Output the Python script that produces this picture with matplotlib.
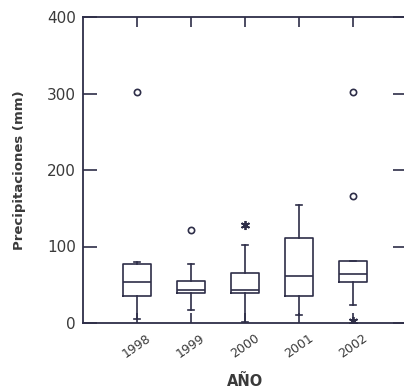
import matplotlib
matplotlib.use("Agg")
import matplotlib.pyplot as plt

# Precipitation by year
years = ["1998", "1999", "2000", "2001", "2002"]
q1 = [35, 39, 39, 35, 53]
med = [53, 43.5, 43, 62, 63.5]
q3 = [77, 55, 65, 111.5, 81.5]
whis_lo = [5, 17, 1, 10.5, 23.5]
whis_hi = [79.5, 77, 102, 154, 81.5]
outliers = [[302], [122], [], [], [166, 302]]
extremes = [[], [], [128], [], [2]]

line_c = "#2e2e48"
text_c = "#3a3a3a"

fig = plt.figure(figsize=(4.04, 3.88), dpi=100)
ax = fig.add_axes([83 / 404, 1 - 323 / 388, 324 / 404, 306 / 388])

pos = list(range(1, len(years) + 1))
stats = []
for i in range(len(years)):
    stats.append({"med": med[i], "q1": q1[i], "q3": q3[i],
                  "whislo": whis_lo[i], "whishi": whis_hi[i],
                  "fliers": outliers[i]})

lw = 1.2
ax.bxp(stats, positions=pos, widths=0.52, capwidths=0.12,
       boxprops=dict(color=line_c, linewidth=lw),
       medianprops=dict(color=line_c, linewidth=lw),
       whiskerprops=dict(color=line_c, linewidth=lw),
       capprops=dict(color=line_c, linewidth=lw),
       flierprops=dict(marker="o", markersize=4.5, markerfacecolor="none",
                       markeredgecolor=line_c, markeredgewidth=1.2))

# extreme values drawn as asterisks
for p, vals in zip(pos, extremes):
    for v in vals:
        ax.plot(p, v, marker=(6, 2, 0), markersize=6.5, color=line_c,
                markeredgewidth=1.3, linestyle="none")

ax.set_xlim(0, 6)
ax.set_ylim(0, 400)
ax.set_yticks([0, 100, 200, 300, 400])
ax.set_xticks(pos)
ax.set_xticklabels(years, rotation=35, ha="center", color=text_c, fontsize=9)
ax.tick_params(axis="y", direction="in", length=10, width=1.2, colors=line_c,
               labelcolor=text_c, labelsize=11, pad=5, right=True)
ax.tick_params(axis="x", direction="in", length=7, width=1.2, colors=line_c,
               labelcolor=text_c, pad=6, top=True)

for s in ax.spines.values():
    s.set_color(line_c)
    s.set_linewidth(1.3)

ax.set_ylabel("Precipitaciones (mm)", fontsize=9.5, fontweight="bold",
              color=text_c, labelpad=15)
ax.set_xlabel("AÑO", fontsize=10.5, fontweight="bold", color=text_c, labelpad=10)

fig.savefig("out.png", dpi=100)
